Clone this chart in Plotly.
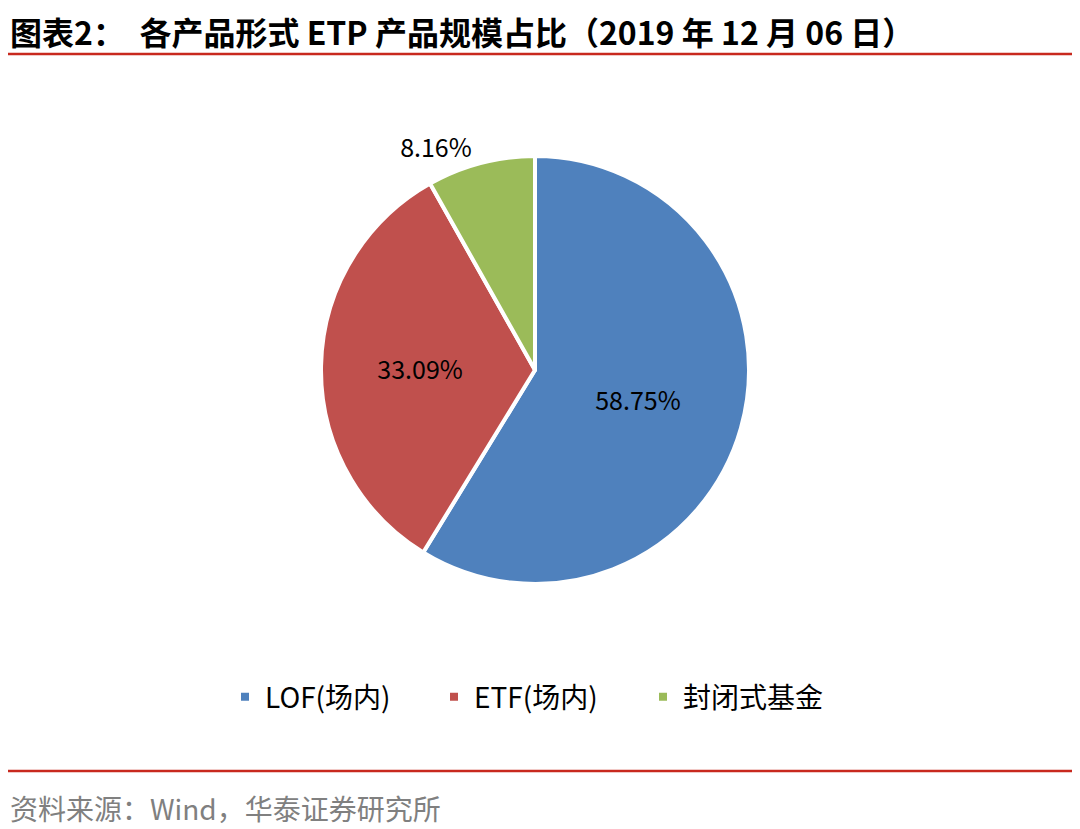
import plotly.graph_objects as go

# data
labels = ['LOF(场内)', 'ETF(场内)', '封闭式基金']
shares = [58.75, 33.09, 8.16]
colors = ['#4F81BD', '#C0504D', '#9BBB59']

title = '图表2：  各产品形式 ETP 产品规模占比（2019 年 12 月 06 日）'
source = '资料来源：Wind，华泰证券研究所'

W, H = 1080, 829
OFF = 8  # page body margin
cjk = 'Noto Sans CJK SC'

def px_x(x):
    return (x - OFF) / W

def px_y(y):
    return 1 - (y - OFF) / H

# pie centre / radius in reference pixels
cx, cy, r = 535, 370, 214

fig = go.Figure()
fig.add_trace(go.Pie(
    labels=labels, values=shares,
    sort=False, direction='clockwise', rotation=0,
    marker=dict(colors=colors, line=dict(color='white', width=4)),
    texttemplate='%{percent:.2%}',
    textposition=['inside', 'inside', 'outside'],
    insidetextorientation='horizontal',
    textfont=dict(family=cjk, size=25, color='black'),
    domain=dict(x=[px_x(cx - r), px_x(cx + r)], y=[px_y(cy + r), px_y(cy - r)]),
    hoverinfo='label+percent',
))

fig.update_layout(
    width=W, height=H,
    paper_bgcolor='white', plot_bgcolor='white',
    margin=dict(l=0, r=0, t=0, b=0),
    showlegend=True,
    legend=dict(
        orientation='h', x=px_x(225), xanchor='left', y=px_y(697), yanchor='middle',
        font=dict(family=cjk, size=28, color='black'),
        itemwidth=30, traceorder='normal',
        entrywidth=164, entrywidthmode='pixels',
    ),
    font=dict(family=cjk),
    shapes=[
        dict(type='line', xref='paper', yref='paper', x0=0, x1=px_x(1072),
             y0=px_y(54), y1=px_y(54), line=dict(color='#C8291E', width=2.5)),
        dict(type='line', xref='paper', yref='paper', x0=0, x1=px_x(1072),
             y0=px_y(771), y1=px_y(771), line=dict(color='#C8291E', width=2.5)),
    ],
    annotations=[
        dict(text='<b>' + title + '</b>',
             xref='paper', yref='paper', x=0, y=px_y(31),
             xanchor='left', yanchor='middle', showarrow=False,
             font=dict(family=cjk, size=32, color='black')),
        dict(text=source, xref='paper', yref='paper', x=0, y=px_y(808),
             xanchor='left', yanchor='middle', showarrow=False,
             font=dict(family=cjk, size=28, color='#808080')),
    ],
)

fig.write_html('out.html')
